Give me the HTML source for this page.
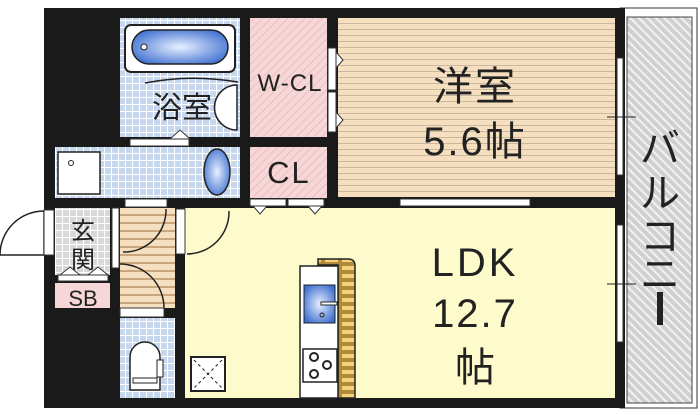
<!DOCTYPE html>
<html><head><meta charset="utf-8"><style>
html,body{margin:0;padding:0;background:#fff;width:700px;height:415px;overflow:hidden}
text{font-family:"Liberation Sans","Noto Sans CJK JP",sans-serif;fill:#222}
</style></head><body>
<svg width="700" height="415" viewBox="0 0 700 415" xmlns="http://www.w3.org/2000/svg">
<defs>
<pattern id="tile" width="7" height="7" patternUnits="userSpaceOnUse"><rect width="7" height="7" fill="#fff"/><rect width="6" height="6" fill="#c7d8ee"/></pattern>
<pattern id="gtile" width="7" height="7" patternUnits="userSpaceOnUse"><rect width="7" height="7" fill="#fff"/><rect width="6" height="6" fill="#d8d8d8"/></pattern>
<pattern id="wood" width="6" height="6" patternUnits="userSpaceOnUse"><rect width="6" height="6" fill="#f6dfbf"/><rect y="5" width="6" height="1" fill="#c8b8a0"/></pattern>
<pattern id="hall" width="8" height="8" patternUnits="userSpaceOnUse"><rect width="8" height="8" fill="#f6dfbf"/><rect y="6" width="8" height="2" fill="#c9a77e"/></pattern>
<pattern id="pink" width="6" height="6" patternUnits="userSpaceOnUse" patternTransform="rotate(45)"><rect width="6" height="6" fill="#f6d6d6"/><rect width="1" height="6" fill="#e8c0c0"/></pattern>
<pattern id="hatch" width="6" height="6" patternUnits="userSpaceOnUse" patternTransform="rotate(-45)"><rect width="6" height="6" fill="#d0d0d0"/><rect width="2" height="6" fill="#f2f2f2"/></pattern>
<pattern id="ystripe" width="17" height="8" patternUnits="userSpaceOnUse"><rect width="17" height="8" fill="#b08c3a"/><rect x="2" y="2" width="13" height="4" fill="#f4d27a"/></pattern>
<radialGradient id="blue" cx="50%" cy="50%" r="60%"><stop offset="0" stop-color="#e8f0ff"/><stop offset="1" stop-color="#3d6fd0"/></radialGradient>
</defs>
<rect x="620" y="8" width="77" height="400" fill="#fff" stroke="#333" stroke-width="1"/>
<rect x="627" y="17" width="65" height="386" fill="url(#hatch)" stroke="#444" stroke-width="1"/>
<rect x="44" y="8" width="581" height="400" fill="#1a1a1a"/>
<rect x="120" y="18" width="120" height="119" fill="url(#tile)"/>
<rect x="250" y="18" width="77" height="119" fill="url(#pink)"/>
<rect x="338" y="18" width="277" height="179" fill="url(#wood)"/>
<rect x="55" y="147" width="185" height="51" fill="url(#tile)"/>
<rect x="250" y="147" width="77" height="51" fill="url(#pink)"/>
<rect x="55" y="208" width="55" height="67" fill="url(#gtile)"/>
<rect x="55" y="283" width="55" height="25" fill="#f6d6d6"/>
<rect x="120" y="208" width="55" height="100" fill="url(#hall)"/>
<rect x="120" y="318" width="55" height="80" fill="url(#tile)"/>
<rect x="185" y="208" width="430" height="190" fill="#fdfacb"/>
<rect x="400" y="199" width="130" height="7" fill="#fff" stroke="#333" stroke-width="1"/>
<rect x="617" y="58" width="6" height="117" fill="#fff" stroke="#333" stroke-width="1"/>
<rect x="617" y="225" width="6" height="117" fill="#fff" stroke="#333" stroke-width="1"/>
<line x1="607" y1="117" x2="636" y2="117" stroke="#222"/>
<line x1="607" y1="284" x2="636" y2="284" stroke="#222"/>
<rect x="130" y="139" width="59" height="7" fill="#fff" stroke="#333" stroke-width="1"/>
<path d="M170 139 L180 130 L190 139Z" fill="#fff" stroke="#333"/>
<rect x="250" y="199" width="36" height="7" fill="#fff" stroke="#333"/>
<rect x="288" y="199" width="36" height="7" fill="#fff" stroke="#333"/>
<path d="M253 206 L260 214 L267 206Z M308 206 L315 214 L322 206Z" fill="#fff" stroke="#333"/>
<rect x="328" y="48" width="8" height="42" fill="#fff" stroke="#333"/>
<rect x="328" y="92" width="8" height="40" fill="#fff" stroke="#333"/>
<path d="M336 52 L343 60 L336 68Z M336 112 L343 120 L336 128Z" fill="#fff" stroke="#333"/>
<rect x="125" y="199" width="42" height="8" fill="#fff" stroke="#333"/>
<rect x="125" y="25" width="110" height="47" rx="6" fill="#fff" stroke="#222" stroke-width="2"/>
<rect x="132" y="30" width="96" height="34" rx="17" fill="url(#blue)" stroke="#222" stroke-width="1.5"/>
<circle cx="144" cy="47" r="3" fill="#fff" stroke="#222"/>
<path d="M145 83 Q190 74 238 82" fill="none" stroke="#222" stroke-width="1.5"/>
<path d="M237 85 A22 22 0 0 0 237 130 Z" fill="#fff" stroke="#222" stroke-width="1.5"/>
<rect x="58" y="152" width="42" height="42" fill="#fff" stroke="#222" stroke-width="1.5"/>
<circle cx="71" cy="163" r="2.5" fill="none" stroke="#222"/>
<ellipse cx="217" cy="172" rx="13" ry="23" fill="url(#blue)" stroke="#222" stroke-width="1.5"/>
<path d="M44 255 L0 255 A44 44 0 0 1 44 211 Z" fill="#fff" stroke="#222" stroke-width="1.5"/>
<rect x="44" y="210" width="10" height="45" fill="#fff" stroke="#333"/>
<path d="M60 275 L70 267 L80 275Z M88 275 L98 267 L108 275Z" fill="#fff" stroke="#333"/>
<rect x="58" y="275" width="50" height="6" fill="#fff" stroke="#333"/>
<rect x="112" y="208" width="7" height="60" fill="#fff" stroke="#333"/>
<path d="M123 252 A42 42 0 0 0 166 209" fill="none" stroke="#222" stroke-width="1.5"/>
<path d="M120 264 A44 44 0 0 1 164 308" fill="none" stroke="#222" stroke-width="1.5"/>
<rect x="120" y="308" width="44" height="9" fill="#fff" stroke="#333"/>
<rect x="176" y="209" width="9" height="45" fill="#fff" stroke="#333"/>
<path d="M187 254 A42 42 0 0 0 229 211" fill="none" stroke="#222" stroke-width="1.5"/>
<path d="M130 390 L130 357 A15 15 0 0 1 160 357 L160 390Z" fill="#fff" stroke="#222" stroke-width="1.5"/>
<rect x="157" y="360" width="6" height="17" fill="#fff" stroke="#222"/>
<rect x="133" y="378" width="24" height="5" fill="#fff" stroke="#222"/>
<rect x="191" y="357" width="34" height="34" fill="#fff" stroke="#222" stroke-width="2"/>
<path d="M194 360 L222 388 M222 360 L194 388" stroke="#222" stroke-dasharray="3,3"/>
<path d="M318 259 L348 259 Q355 259 355 266 L355 398 L338 398 L338 265 L318 265Z" fill="url(#ystripe)" stroke="#222" stroke-width="1.5"/>
<rect x="300" y="266" width="38" height="132" fill="#fff" stroke="#222" stroke-width="1.5"/>
<rect x="304" y="285" width="31" height="38" fill="url(#blue)" stroke="#222"/>
<rect x="321" y="302" width="16" height="3" fill="#fff" stroke="#222"/>
<circle cx="322" cy="315" r="2" fill="none" stroke="#222"/>
<rect x="303" y="349" width="34" height="33" fill="#fff" stroke="#222" stroke-width="1.5"/>
<circle cx="314" cy="357" r="4" fill="none" stroke="#222" stroke-width="2"/>
<circle cx="327" cy="365" r="4" fill="none" stroke="#222" stroke-width="2"/>
<circle cx="314" cy="374" r="4" fill="none" stroke="#222" stroke-width="2"/>
<text x="182" y="118" font-size="30" text-anchor="middle">浴室</text>
<text x="290" y="91" font-size="24" text-anchor="middle" letter-spacing="1">W-CL</text>
<text x="289" y="183" font-size="31" text-anchor="middle" letter-spacing="2">CL</text>
<text x="83" y="239" font-size="24" text-anchor="middle">玄</text>
<text x="83" y="268" font-size="24" text-anchor="middle">関</text>
<text x="83" y="306" font-size="22" text-anchor="middle">SB</text>
<text x="475" y="100" font-size="40" text-anchor="middle" letter-spacing="2">洋室</text>
<text x="475" y="155" font-size="40" text-anchor="middle" letter-spacing="2">5.6帖</text>
<text x="475" y="276" font-size="40" text-anchor="middle" letter-spacing="3">LDK</text>
<text x="475" y="327" font-size="40" text-anchor="middle" letter-spacing="2">12.7</text>
<text x="475" y="381" font-size="40" text-anchor="middle">帖</text>
<text x="660" y="162" font-size="40" text-anchor="middle">バ</text>
<text x="660" y="207" font-size="40" text-anchor="middle">ル</text>
<text x="660" y="250" font-size="40" text-anchor="middle">コ</text>
<text x="660" y="288" font-size="40" text-anchor="middle">ニ</text>
<rect x="657" y="292" width="6" height="33" fill="#222"/>
</svg>
</body></html>
